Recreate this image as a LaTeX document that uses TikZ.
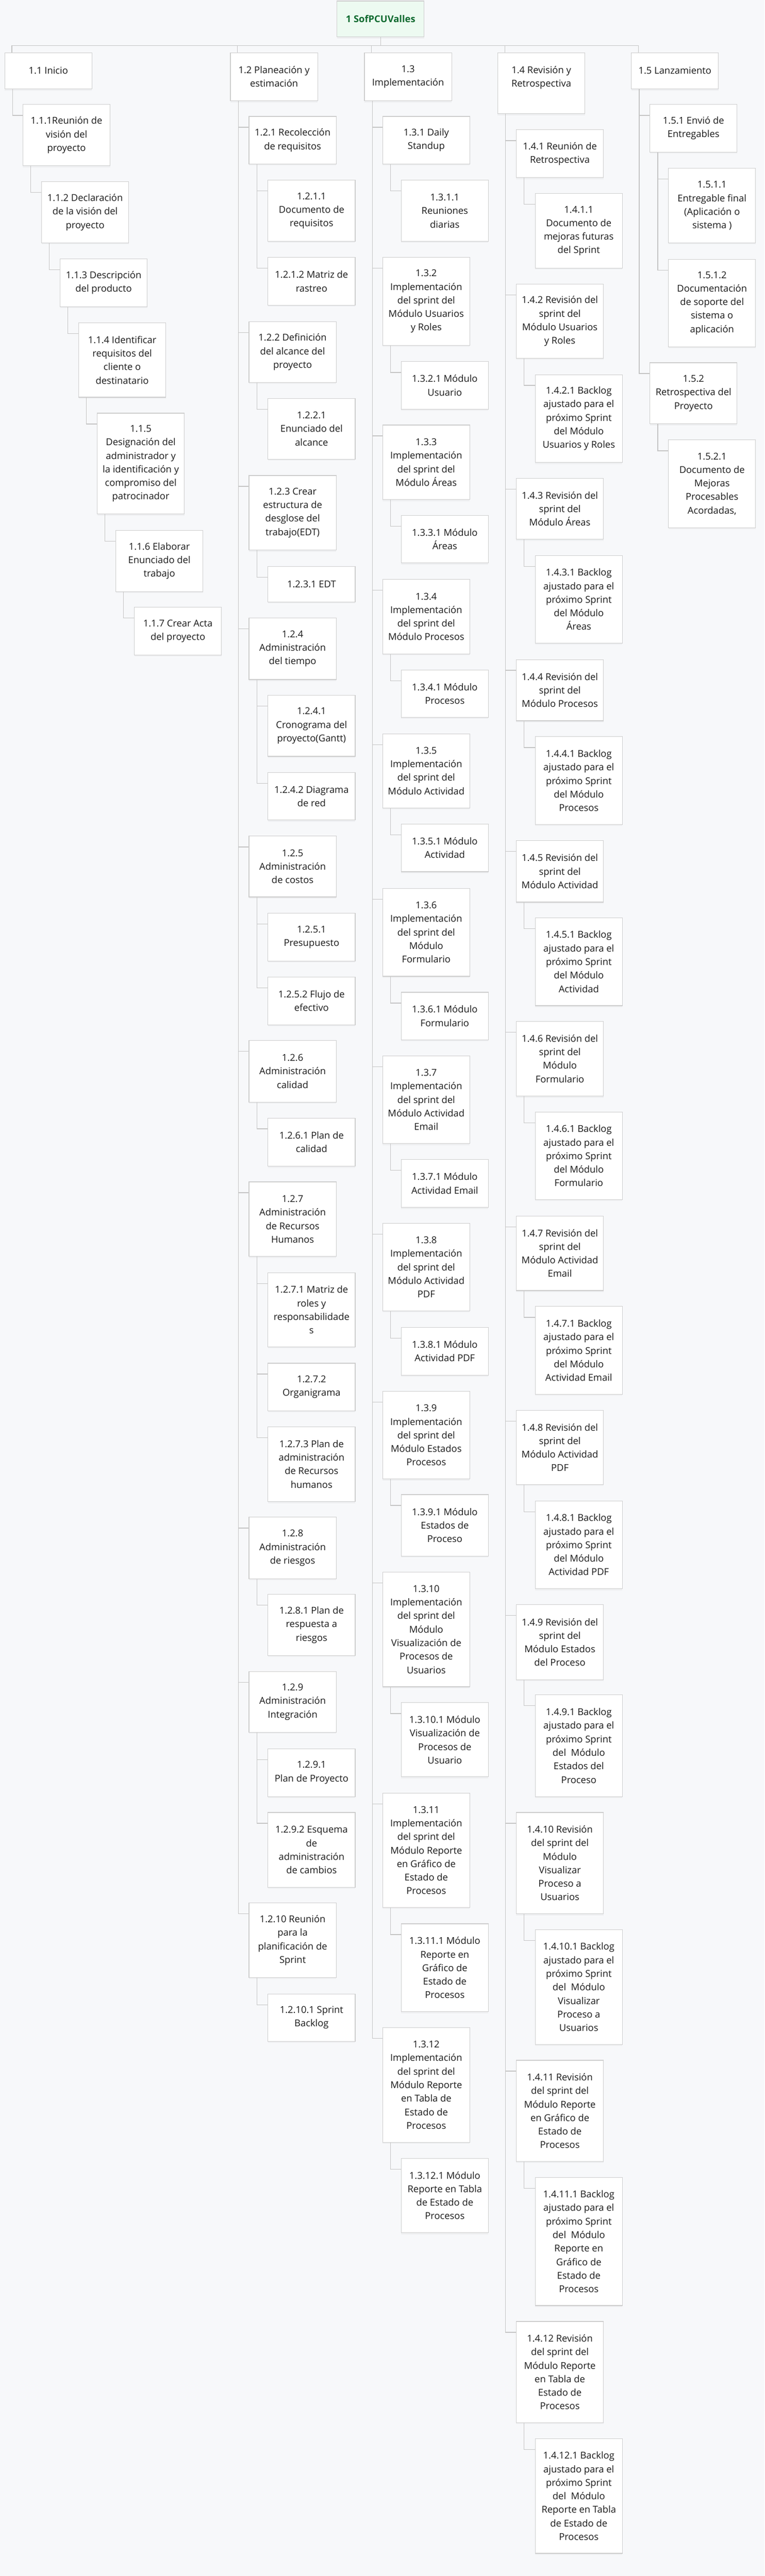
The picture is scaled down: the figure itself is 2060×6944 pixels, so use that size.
\documentclass[tikz,border=0pt]{standalone}
\usepackage{fontspec}
\setmainfont{Open Sans}
\usetikzlibrary{shadows}
\definecolor{bg}{HTML}{F7F8FA}
\definecolor{bord}{HTML}{CDCDCD}
\definecolor{lin}{HTML}{C4C4C4}
\definecolor{txt}{HTML}{1A1A1A}
\definecolor{rootfill}{HTML}{EDFAF1}
\definecolor{roottxt}{HTML}{0E6B30}
\tikzset{
  box/.style={draw=bord, line width=1.6pt, fill=white, anchor=north west,
    minimum width=235pt, inner sep=0pt, align=center, text=txt,
    font=\fontsize{25.5}{36.5}\selectfont,
    drop shadow={opacity=0.07, shadow xshift=0pt, shadow yshift=-4pt}},
  rootbox/.style={box, fill=rootfill, text=roottxt,
    font=\bfseries\fontsize{25.5}{36.5}\selectfont},
  conn/.style={draw=lin, line width=1.8pt},
}
\newcommand\wbs[5]{\node[box, minimum height={#4pt-#3pt}] (#1) at (#2,#3) {#5};}
\newcommand\lk[2]{\draw[conn] ([xshift=22pt]#1.south west) |- ([yshift=-30pt]#2.north west);}
\begin{document}
\begin{tikzpicture}[x=1pt,y=-1pt]
\fill[bg] (0,0) rectangle (2060,6944);
\useasboundingbox (0,0) rectangle (2060,6944);

% root
\node[rootbox, minimum height=97pt] (r) at (907,2) {1 SofPCUValles};

% level 1
\wbs{a1}{12}{141}{239}{1.1 Inicio}
\wbs{a2}{620}{141}{271}{1.2 Planeación y\\estimación}
\wbs{a3}{981}{141}{271}{1.3\\Implementación}
\wbs{a4}{1340}{141}{306}{1.4 Revisión y\\Retrospectiva\\\mbox{}}
\wbs{a5}{1700}{141}{239}{1.5 Lanzamiento}

% column 1.1
\wbs{a1-1}{61}{281}{446}{1.1.1Reunión de\\visión del\\proyecto}
\wbs{a1-2}{111}{489}{654}{1.1.2 Declaración\\de la visión del\\proyecto}
\wbs{a1-3}{161}{697}{826}{1.1.3 Descripción\\del producto}
\wbs{a1-4}{211}{869}{1070}{1.1.4 Identificar\\requisitos del\\cliente o\\destinatario}
\wbs{a1-5}{261}{1113}{1385}{1.1.5\\Designación del\\administrador y\\la identificación y\\compromiso del\\patrocinador}
\wbs{a1-6}{311}{1429}{1594}{1.1.6 Elaborar\\Enunciado del\\trabajo}
\wbs{a1-7}{361}{1636}{1765}{1.1.7 Crear Acta\\del proyecto}

% column 1.2
\wbs{a2-1}{670}{313}{441}{1.2.1 Recolección\\de requisitos}
\wbs{a2-1-1}{721}{485}{650}{1.2.1.1\\Documento de\\requisitos}
\wbs{a2-1-2}{721}{693}{822}{1.2.1.2 Matriz de\\rastreo}
\wbs{a2-2}{670}{866}{1030}{1.2.2 Definición\\del alcance del\\proyecto}
\wbs{a2-2-1}{721}{1073}{1237}{1.2.2.1\\Enunciado del\\alcance}
\wbs{a2-3}{670}{1281}{1482}{1.2.3 Crear\\estructura de\\desglose del\\trabajo(EDT)}
\wbs{a2-3-1}{721}{1526}{1622}{1.2.3.1 EDT}
\wbs{a2-4}{670}{1665}{1831}{1.2.4\\Administración\\del tiempo}
\wbs{a2-4-1}{721}{1873}{2038}{1.2.4.1\\Cronograma del\\proyecto(Gantt)}
\wbs{a2-4-2}{721}{2082}{2210}{1.2.4.2 Diagrama\\de red}
\wbs{a2-5}{670}{2253}{2417}{1.2.5\\Administración\\de costos}
\wbs{a2-5-1}{721}{2461}{2590}{1.2.5.1\\Presupuesto}
\wbs{a2-5-2}{721}{2633}{2762}{1.2.5.2 Flujo de\\efectivo}
\wbs{a2-6}{670}{2804}{2970}{1.2.6\\Administración\\calidad}
\wbs{a2-6-1}{721}{3013}{3143}{1.2.6.1 Plan de\\calidad}
\wbs{a2-7}{670}{3185}{3386}{1.2.7\\Administración\\de Recursos\\Humanos}
\wbs{a2-7-1}{721}{3430}{3630}{1.2.7.1 Matriz de\\roles y\\responsabilidade\\s}
\wbs{a2-7-2}{721}{3674}{3802}{1.2.7.2\\Organigrama}
\wbs{a2-7-3}{721}{3845}{4047}{1.2.7.3 Plan de\\administración\\de Recursos\\humanos}
\wbs{a2-8}{670}{4089}{4255}{1.2.8\\Administración\\de riesgos}
\wbs{a2-8-1}{721}{4297}{4462}{1.2.8.1 Plan de\\respuesta a\\riesgos}
\wbs{a2-9}{670}{4505}{4669}{1.2.9\\Administración\\Integración}
\wbs{a2-9-1}{721}{4713}{4842}{1.2.9.1\\Plan de Proyecto}
\wbs{a2-9-2}{721}{4885}{5087}{1.2.9.2 Esquema\\de\\administración\\de cambios}
\wbs{a2-10}{670}{5129}{5330}{1.2.10 Reunión\\para la\\planificación de\\Sprint}
\wbs{a2-10-1}{721}{5374}{5502}{1.2.10.1 Sprint\\Backlog}

% column 1.3
\wbs{a3-1}{1030}{313}{441}{1.3.1 Daily\\Standup}
\wbs{a3-1-1}{1080}{485}{650}{1.3.1.1\\Reuniones\\diarias}
\wbs{a3-2}{1030}{693}{930}{1.3.2\\Implementación\\del sprint del\\Módulo Usuarios\\y Roles}
\wbs{a3-2-1}{1080}{974}{1102}{1.3.2.1 Módulo\\Usuario}
\wbs{a3-3}{1030}{1145}{1346}{1.3.3\\Implementación\\del sprint del\\Módulo Áreas}
\wbs{a3-3-1}{1080}{1389}{1517}{1.3.3.1 Módulo\\Áreas}
\wbs{a3-4}{1030}{1561}{1762}{1.3.4\\Implementación\\del sprint del\\Módulo Procesos}
\wbs{a3-4-1}{1080}{1805}{1933}{1.3.4.1 Módulo\\Procesos}
\wbs{a3-5}{1030}{1977}{2177}{1.3.5\\Implementación\\del sprint del\\Módulo Actividad}
\wbs{a3-5-1}{1080}{2221}{2349}{1.3.5.1 Módulo\\Actividad}
\wbs{a3-6}{1030}{2394}{2631}{1.3.6\\Implementación\\del sprint del\\Módulo\\Formulario}
\wbs{a3-6-1}{1080}{2674}{2802}{1.3.6.1 Módulo\\Formulario}
\wbs{a3-7}{1030}{2845}{3082}{1.3.7\\Implementación\\del sprint del\\Módulo Actividad\\Email}
\wbs{a3-7-1}{1080}{3125}{3254}{1.3.7.1 Módulo\\Actividad Email}
\wbs{a3-8}{1030}{3297}{3533}{1.3.8\\Implementación\\del sprint del\\Módulo Actividad\\PDF}
\wbs{a3-8-1}{1080}{3577}{3706}{1.3.8.1 Módulo\\Actividad PDF}
\wbs{a3-9}{1030}{3750}{3986}{1.3.9\\Implementación\\del sprint del\\Módulo Estados\\Procesos}
\wbs{a3-9-1}{1080}{4028}{4194}{1.3.9.1 Módulo\\Estados de\\Proceso}
\wbs{a3-10}{1030}{4237}{4546}{1.3.10\\Implementación\\del sprint del\\Módulo\\Visualización de\\Procesos de\\Usuarios}
\wbs{a3-10-1}{1080}{4589}{4789}{1.3.10.1 Módulo\\Visualización de\\Procesos de\\Usuario}
\wbs{a3-11}{1030}{4833}{5141}{1.3.11\\Implementación\\del sprint del\\Módulo Reporte\\en Gráfico de\\Estado de\\Procesos}
\wbs{a3-11-1}{1080}{5185}{5422}{1.3.11.1 Módulo\\Reporte en\\Gráfico de\\Estado de\\Procesos}
\wbs{a3-12}{1030}{5465}{5774}{1.3.12\\Implementación\\del sprint del\\Módulo Reporte\\en Tabla de\\Estado de\\Procesos}
\wbs{a3-12-1}{1080}{5817}{6018}{1.3.12.1 Módulo\\Reporte en Tabla\\de Estado de\\Procesos}

% column 1.4
\wbs{a4-1}{1390}{349}{478}{1.4.1 Reunión de\\Retrospectiva}
\wbs{a4-1-1}{1441}{521}{722}{1.4.1.1\\Documento de\\mejoras futuras\\del Sprint}
\wbs{a4-2}{1390}{765}{965}{1.4.2 Revisión del\\sprint del\\Módulo Usuarios\\y Roles}
\wbs{a4-2-1}{1441}{1009}{1246}{1.4.2.1 Backlog\\ajustado para el\\próximo Sprint\\del Módulo\\Usuarios y Roles}
\wbs{a4-3}{1390}{1289}{1453}{1.4.3 Revisión del\\sprint del\\Módulo Áreas}
\wbs{a4-3-1}{1441}{1497}{1733}{1.4.3.1 Backlog\\ajustado para el\\próximo Sprint\\del Módulo\\Áreas}
\wbs{a4-4}{1390}{1777}{1942}{1.4.4 Revisión del\\sprint del\\Módulo Procesos}
\wbs{a4-4-1}{1441}{1985}{2222}{1.4.4.1 Backlog\\ajustado para el\\próximo Sprint\\del Módulo\\Procesos}
\wbs{a4-5}{1390}{2265}{2431}{1.4.5 Revisión del\\sprint del\\Módulo Actividad}
\wbs{a4-5-1}{1441}{2473}{2710}{1.4.5.1 Backlog\\ajustado para el\\próximo Sprint\\del Módulo\\Actividad}
\wbs{a4-6}{1390}{2752}{2954}{1.4.6 Revisión del\\sprint del\\Módulo\\Formulario}
\wbs{a4-6-1}{1441}{2997}{3233}{1.4.6.1 Backlog\\ajustado para el\\próximo Sprint\\del Módulo\\Formulario}
\wbs{a4-7}{1390}{3277}{3478}{1.4.7 Revisión del\\sprint del\\Módulo Actividad\\Email}
\wbs{a4-7-1}{1441}{3521}{3758}{1.4.7.1 Backlog\\ajustado para el\\próximo Sprint\\del Módulo\\Actividad Email}
\wbs{a4-8}{1390}{3801}{4001}{1.4.8 Revisión del\\sprint del\\Módulo Actividad\\PDF}
\wbs{a4-8-1}{1441}{4045}{4282}{1.4.8.1 Backlog\\ajustado para el\\próximo Sprint\\del Módulo\\Actividad PDF}
\wbs{a4-9}{1390}{4325}{4527}{1.4.9 Revisión del\\sprint del\\Módulo Estados\\del Proceso}
\wbs{a4-9-1}{1441}{4568}{4842}{1.4.9.1 Backlog\\ajustado para el\\próximo Sprint\\del~~Módulo\\Estados del\\Proceso}
\wbs{a4-10}{1390}{4885}{5158}{1.4.10 Revisión\\del sprint del\\Módulo\\Visualizar\\Proceso a\\Usuarios}
\wbs{a4-10-1}{1441}{5201}{5510}{1.4.10.1 Backlog\\ajustado para el\\próximo Sprint\\del~~Módulo\\Visualizar\\Proceso a\\Usuarios}
\wbs{a4-11}{1390}{5553}{5826}{1.4.11 Revisión\\del sprint del\\Módulo Reporte\\en Gráfico de\\Estado de\\Procesos}
\wbs{a4-11-1}{1441}{5869}{6214}{1.4.11.1 Backlog\\ajustado para el\\próximo Sprint\\del~~Módulo\\Reporte en\\Gráfico de\\Estado de\\Procesos}
\wbs{a4-12}{1390}{6257}{6530}{1.4.12 Revisión\\del sprint del\\Módulo Reporte\\en Tabla de\\Estado de\\Procesos}
\wbs{a4-12-1}{1441}{6573}{6882}{1.4.12.1 Backlog\\ajustado para el\\próximo Sprint\\del~~Módulo\\Reporte en Tabla\\de Estado de\\Procesos}

% column 1.5
\wbs{a5-1}{1750}{281}{409}{1.5.1 Envió de\\Entregables}
\wbs{a5-1-1}{1800}{453}{654}{1.5.1.1\\Entregable final\\(Aplicación o\\sistema )}
\wbs{a5-1-2}{1800}{698}{934}{1.5.1.2\\Documentación\\de soporte del\\sistema o\\aplicación}
\wbs{a5-2}{1750}{977}{1142}{1.5.2\\Retrospectiva del\\Proyecto}
\wbs{a5-2-1}{1800}{1185}{1422}{1.5.2.1\\Documento de\\Mejoras\\Procesables\\Acordadas,}

% connectors: root to level 1
\draw[conn] (r.south) -- ++(0,-22pt) coordinate (bus);
\foreach \k in {1,...,5}{\draw[conn] (bus) -| ([xshift=20pt]a\k.north west);}

% column 1.1 (staircase)
\lk{a1}{a1-1}\lk{a1-1}{a1-2}\lk{a1-2}{a1-3}\lk{a1-3}{a1-4}
\lk{a1-4}{a1-5}\lk{a1-5}{a1-6}\lk{a1-6}{a1-7}

% column 1.2
\foreach \k in {1,...,10}{\lk{a2}{a2-\k}}
\lk{a2-1}{a2-1-1}\lk{a2-1}{a2-1-2}
\lk{a2-2}{a2-2-1}\lk{a2-3}{a2-3-1}
\lk{a2-4}{a2-4-1}\lk{a2-4}{a2-4-2}
\lk{a2-5}{a2-5-1}\lk{a2-5}{a2-5-2}
\lk{a2-6}{a2-6-1}
\lk{a2-7}{a2-7-1}\lk{a2-7}{a2-7-2}\lk{a2-7}{a2-7-3}
\lk{a2-8}{a2-8-1}
\lk{a2-9}{a2-9-1}\lk{a2-9}{a2-9-2}
\lk{a2-10}{a2-10-1}

% column 1.3
\foreach \k in {1,...,12}{\lk{a3}{a3-\k}\lk{a3-\k}{a3-\k-1}}

% column 1.4
\foreach \k in {1,...,12}{\lk{a4}{a4-\k}\lk{a4-\k}{a4-\k-1}}

% column 1.5
\lk{a5}{a5-1}\lk{a5}{a5-2}
\lk{a5-1}{a5-1-1}\lk{a5-1}{a5-1-2}
\lk{a5-2}{a5-2-1}
\end{tikzpicture}
\end{document}
